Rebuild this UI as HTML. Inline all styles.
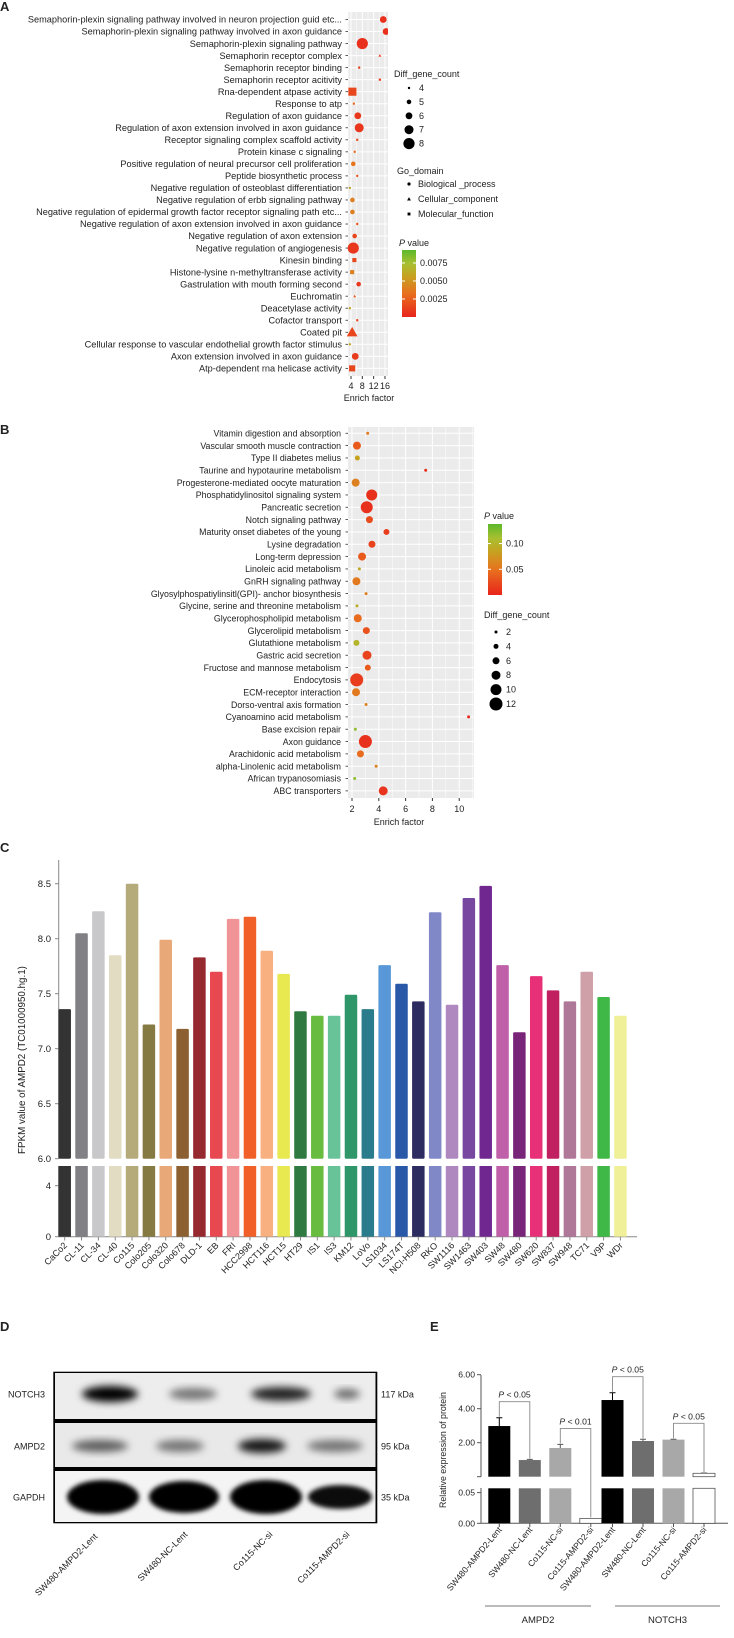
<!DOCTYPE html>
<html><head><meta charset="utf-8">
<style>
html,body{margin:0;padding:0;background:#fff;}
svg{display:block;font-family:"Liberation Sans",sans-serif;}
text{fill:#222;}
</style></head>
<body>
<svg id="fig" width="734" height="1638" viewBox="0 0 734 1638" xmlns="http://www.w3.org/2000/svg">
<defs>
<filter id="blur3" x="-50%" y="-50%" width="200%" height="200%"><feGaussianBlur stdDeviation="4"/></filter>
<filter id="blur2" x="-50%" y="-50%" width="200%" height="200%"><feGaussianBlur stdDeviation="2.5"/></filter>
<linearGradient id="gradA" x1="0" y1="1" x2="0" y2="0">
<stop offset="0" stop-color="#e8241c"/><stop offset="0.35" stop-color="#e8701e"/><stop offset="0.6" stop-color="#c8a020"/><stop offset="0.8" stop-color="#a8c030"/><stop offset="1" stop-color="#5cb82c"/>
</linearGradient>
</defs>
<g id="panelA"></g>
<g id="panelB"></g>
<g id="panelC"></g>
<g id="panelD"></g>
<g id="panelE"></g>
</svg>
<script>
// ---------- Panel A data ----------
const aTerms = ["Semaphorin-plexin signaling pathway involved in neuron projection guid etc...","Semaphorin-plexin signaling pathway involved in axon guidance","Semaphorin-plexin signaling pathway","Semaphorin receptor complex","Semaphorin receptor binding","Semaphorin receptor acitivity","Rna-dependent atpase activity","Response to atp","Regulation of axon guidance","Regulation of axon extension involved in axon guidance","Receptor signaling complex scaffold activity","Protein kinase c signaling","Positive regulation of neural precursor cell proliferation","Peptide biosynthetic process","Negative regulation of osteoblast differentiation","Negative regulation of erbb signaling pathway","Negative regulation of epidermal growth factor receptor signaling path etc...","Negative regulation of axon extension involved in axon guidance","Negative regulation of axon extension","Negative regulation of angiogenesis","Kinesin binding","Histone-lysine n-methyltransferase activity","Gastrulation with mouth forming second","Euchromatin","Deacetylase activity","Cofactor transport","Coated pit","Cellular response to vascular endothelial growth factor stimulus","Axon extension involved in axon guidance","Atp-dependent rna helicase activity"];
const aEnrich = [15.4,16.4,8.0,14.2,6.9,14.2,4.5,5.0,6.4,6.9,6.2,5.3,4.8,6.2,3.6,4.5,4.5,6.2,5.3,4.8,5.2,4.4,6.7,5.3,3.6,6.2,4.4,3.6,5.5,4.4];
const aCount = [6,6,8,4,4,4,7,4,6,7,4,4,5,4,4,5,5,4,5,8,5,5,5,4,4,4,7,4,6,6];
const aShape = ["c","c","c","t","c","s","s","c","c","c","s","c","c","c","c","c","c","c","c","c","s","s","c","t","s","c","t","c","c","s"];
const aP = [0.0005,0.0005,0.0005,0.0008,0.001,0.001,0.0015,0.003,0.0008,0.0008,0.0015,0.003,0.0035,0.002,0.006,0.004,0.004,0.002,0.0015,0.0008,0.0015,0.004,0.0008,0.002,0.006,0.0015,0.0015,0.006,0.001,0.0015];
const aXTicks = [4,8,12,16];
const aSizeLegend = [4,5,6,7,8];
const aPTicks = [0.0075,0.0050,0.0025];
// ---------- Panel B data ----------
const bTerms = ["Vitamin digestion and absorption","Vascular smooth muscle contraction","Type II diabetes melius","Taurine and hypotaurine metabolism","Progesterone-mediated oocyte maturation","Phosphatidylinositol signaling system","Pancreatic secretion","Notch signaling pathway","Maturity onset diabetes of the young","Lysine degradation","Long-term depression","Linoleic acid metabolism","GnRH signaling pathway","Glyosylphospatiylinsitl(GPI)- anchor biosynthesis","Glycine, serine and threonine metabolism","Glycerophospholipid metabolism","Glycerolipid metabolism","Glutathione metabolism","Gastric acid secretion","Fructose and mannose metabolism","Endocytosis","ECM-receptor interaction","Dorso-ventral axis formation","Cyanoamino acid metabolism","Base excision repair","Axon guidance","Arachidonic acid metabolism","alpha-Linolenic acid metabolism","African trypanosomiasis","ABC transporters"];
const bEnrich = [3.17,2.37,2.4,7.5,2.27,3.47,3.1,3.3,4.57,3.49,2.75,2.55,2.33,3.05,2.37,2.43,3.07,2.33,3.12,3.18,2.35,2.3,3.05,10.7,2.25,3.0,2.63,3.8,2.2,4.33];
const bCount = [2,7,4,2,7,10,11,6,5,6,7,2,7,2,2,7,6,5,8,5,12,7,2,2,2,12,6,2,2,8];
const bP = [0.055,0.035,0.085,0.005,0.06,0.008,0.008,0.025,0.015,0.02,0.035,0.09,0.055,0.06,0.095,0.045,0.03,0.1,0.02,0.035,0.015,0.055,0.06,0.003,0.12,0.008,0.045,0.06,0.12,0.01];
const bXTicks = [2,4,6,8,10];
const bSizeLegend = [2,4,6,8,10,12];
const bPTicks = [0.10,0.05];
// ---------- Panel C data ----------
const cLines = ["CaCo2","CL-11","CL-34","CL-40","Co115","Colo205","Colo320","Colo678","DLD-1","EB","FRI","HCC2998","HCT116","HCT15","HT29","IS1","IS3","KM12","LoVo","LS1034","LS174T","NCI-H508","RKO","SW1116","SW1463","SW403","SW48","SW480","SW620","SW837","SW948","TC71","V9P","WDr"];
const cValues = [7.36,8.05,8.25,7.85,8.5,7.22,7.99,7.18,7.83,7.70,8.18,8.20,7.89,7.68,7.34,7.30,7.30,7.49,7.36,7.76,7.59,7.43,8.24,7.40,8.37,8.48,7.76,7.15,7.66,7.53,7.43,7.70,7.47,7.30];
const cColors = ["#333333","#808085","#c8c8ca","#e2dcc2","#b5aa7a","#857a42","#e8a878","#8c6030","#962830","#e84850","#f09498","#f06028","#f8b080","#e8e850","#2e7a40","#68bc40","#68c498","#2e9668","#2a7c8c","#5898d8","#2a58a8","#2c2c60","#8088c8","#b088c0","#7848a0","#702890","#c060a8","#782478","#e83078","#c02060","#b07898","#d0a0a8","#40b848","#f0f098"];
const cUpperTicks = [6.0,6.5,7.0,7.5,8.0,8.5];
const cLowerTicks = [0,4];
// ---------- Panel E data ----------
const eLabels = ["SW480-AMPD2-Lent","SW480-NC-Lent","Co115-NC-si","Co115-AMPD2-si","SW480-AMPD2-Lent","SW480-NC-Lent","Co115-NC-si","Co115-AMPD2-si"];
const eValues = [2.98,0.98,1.69,0.008,4.51,2.1,2.18,0.2];
const eErrors = [0.49,0.04,0.21,0,0.43,0.1,0.02,0.02];
const eFills = ["#000000","#6e6e6e","#a8a8a8","#ffffff","#000000","#6e6e6e","#a8a8a8","#ffffff"];
const eUpperTicks = [2,4,6];
const eLowerTicks = [0,0.05];
const eGroups = ["AMPD2","NOTCH3"];
const eBrackets = [[0,1,"P < 0.05"],[2,3,"P < 0.01"],[4,5,"P < 0.05"],[6,7,"P < 0.05"]];
// ---------- Panel D data ----------
const dLanes = ["SW480-AMPD2-Lent","SW480-NC-Lent","Co115-NC-si","Co115-AMPD2-si"];
const dProteins = ["NOTCH3","AMPD2","GAPDH"];
const dKda = ["117 kDa","95 kDa","35 kDa"];
const dIntensity = [[1.0,0.5,0.85,0.55],[0.6,0.5,0.9,0.5],[1,1,1,0.95]];

const NS="http://www.w3.org/2000/svg";
function mk(parent,tag,attrs,txt){const e=document.createElementNS(NS,tag);for(const k in attrs)e.setAttribute(k,attrs[k]);if(txt!==undefined)e.textContent=txt;parent.appendChild(e);return e;}
function hex(c){return [parseInt(c.slice(1,3),16),parseInt(c.slice(3,5),16),parseInt(c.slice(5,7),16)];}
const stops=[[0,"#e8241c"],[0.35,"#e8701e"],[0.6,"#c8a020"],[0.8,"#a8c030"],[1,"#5cb82c"]];
function pcol(t){t=Math.max(0,Math.min(1,t));for(let i=1;i<stops.length;i++){if(t<=stops[i][0]){const a=hex(stops[i-1][1]),b=hex(stops[i][1]);const f=(t-stops[i-1][0])/(stops[i][0]-stops[i-1][0]);return "rgb("+a.map((v,j)=>Math.round(v+(b[j]-v)*f)).join(",")+")";}}return stops[4][1];}
function shape(g,s,cx,cy,r,fill){
  if(s==="c") return mk(g,"circle",{cx:cx,cy:cy,r:r,fill:fill});
  if(s==="s") return mk(g,"rect",{x:cx-r*0.9,y:cy-r*0.9,width:r*1.8,height:r*1.8,fill:fill});
  return mk(g,"polygon",{points:(cx)+","+(cy-r*1.2)+" "+(cx-r*1.2)+","+(cy+r*0.9)+" "+(cx+r*1.2)+","+(cy+r*0.9),fill:fill});
}

// ================= PANEL A =================
(function(){
const g=document.getElementById("panelA");
mk(g,"text",{x:0,y:11,"font-size":13,"font-weight":"bold"},"A");
const x0=348.3,x1=388,yT=12,yB=376;
const xs=v=>351+(v-4)*2.83;
const ys=i=>19.5+i*12.03;
mk(g,"rect",{x:x0,y:yT,width:x1-x0,height:yB-yT,fill:"#ebebeb"});
for(let v=4;v<=16;v+=2){mk(g,"line",{x1:xs(v),x2:xs(v),y1:yT,y2:yB,stroke:"#fff","stroke-width":v%4===0?1:0.5});}
aTerms.forEach((t,i)=>{
  mk(g,"line",{x1:x0,x2:x1,y1:ys(i),y2:ys(i),stroke:"#fff","stroke-width":1});
  mk(g,"line",{x1:345.5,x2:348,y1:ys(i),y2:ys(i),stroke:"#333","stroke-width":0.8});
  const tx=mk(g,"text",{x:342,y:ys(i)+3.2,"font-size":9.2,"text-anchor":"end"},t);
  
  
});
const pg=mk(g,"g",{});
aTerms.forEach((t,i)=>{
  const m=shape(pg,aShape[i],xs(aEnrich[i]),ys(i),1.2+(aCount[i]-4)*1.1,pcol(aP[i]/0.0093));
  
  
});
mk(g,"rect",{x:x1,y:0,width:4,height:yB,fill:"#fff"});
aXTicks.forEach(v=>{mk(g,"line",{x1:xs(v),x2:xs(v),y1:yB,y2:yB+3,stroke:"#333"});
  const tx=mk(g,"text",{x:xs(v),y:389,"font-size":9,"text-anchor":"middle"},String(v));
  });
mk(g,"text",{x:369,y:401,"font-size":9,"text-anchor":"middle"},"Enrich factor");
// legends
mk(g,"text",{x:394,y:77,"font-size":9},"Diff_gene_count");
aSizeLegend.forEach((c,i)=>{const y=88+i*13.9;mk(g,"circle",{cx:409,cy:y,r:1.2+(c-4)*1.1,fill:"#000"});mk(g,"text",{x:419,y:y+3,"font-size":9},String(c));});
mk(g,"text",{x:397,y:174,"font-size":9},"Go_domain");
[["c","Biological _process"],["t","Cellular_component"],["s","Molecular_function"]].forEach((d,i)=>{const y=184+i*15;shape(g,d[0],409,y,1.6,"#000");mk(g,"text",{x:418,y:y+3,"font-size":9},d[1]);});
const pt=mk(g,"text",{x:399,y:246,"font-size":9},"");

mk(pt,"tspan",{"font-style":"italic"},"P");mk(pt,"tspan",{}," value");
mk(g,"rect",{x:402,y:250,width:14,height:67,fill:"url(#gradA)"});
aPTicks.forEach(p=>{const y=317-(p/0.0093)*67;mk(g,"line",{x1:402,x2:405,y1:y,y2:y,stroke:"#fff"});mk(g,"line",{x1:413,x2:416,y1:y,y2:y,stroke:"#fff"});mk(g,"text",{x:420,y:y+3,"font-size":9},p.toFixed(4));});
})();

// ================= PANEL B =================
(function(){
const g=document.getElementById("panelB");
mk(g,"text",{x:0,y:434,"font-size":13,"font-weight":"bold"},"B");
const x0=348,x1=474,yT=427,yB=798;
const xs=v=>352+(v-2)*13.4;
const ys=i=>433.3+i*12.33;
mk(g,"rect",{x:x0,y:yT,width:x1-x0,height:yB-yT,fill:"#ebebeb"});
for(let v=2;v<=11;v+=1){mk(g,"line",{x1:xs(v),x2:xs(v),y1:yT,y2:yB,stroke:"#fff","stroke-width":v%2===0?1:0.5});}
bTerms.forEach((t,i)=>{
  mk(g,"line",{x1:x0,x2:x1,y1:ys(i),y2:ys(i),stroke:"#fff","stroke-width":1});
  mk(g,"line",{x1:345.5,x2:348,y1:ys(i),y2:ys(i),stroke:"#333","stroke-width":0.8});
  const tx=mk(g,"text",{x:341,y:ys(i)+3.2,"font-size":8.8,"text-anchor":"end"},t);
  
  
});
bTerms.forEach((t,i)=>{
  const m=mk(g,"circle",{cx:xs(bEnrich[i]),cy:ys(i),r:1.5+(bCount[i]-2)*0.5,fill:pcol(bP[i]/0.138)});
  
  
});
bXTicks.forEach(v=>{mk(g,"line",{x1:xs(v),x2:xs(v),y1:yB,y2:yB+3,stroke:"#333"});
  const tx=mk(g,"text",{x:xs(v),y:812,"font-size":9,"text-anchor":"middle"},String(v));
  });
mk(g,"text",{x:399,y:825,"font-size":9,"text-anchor":"middle"},"Enrich factor");
const pt=mk(g,"text",{x:484,y:519,"font-size":9},"");
mk(pt,"tspan",{"font-style":"italic"},"P");mk(pt,"tspan",{}," value");
mk(g,"rect",{x:488,y:524,width:14,height:71,fill:"url(#gradA)"});
bPTicks.forEach(p=>{const y=595-(p/0.138)*71;mk(g,"line",{x1:488,x2:491,y1:y,y2:y,stroke:"#fff"});mk(g,"line",{x1:499,x2:502,y1:y,y2:y,stroke:"#fff"});mk(g,"text",{x:506,y:y+3,"font-size":9},p.toFixed(2));});
mk(g,"text",{x:484,y:618,"font-size":9},"Diff_gene_count");
bSizeLegend.forEach((c,i)=>{const y=632+i*14.4;mk(g,"circle",{cx:496,cy:y,r:1.5+(c-2)*0.5,fill:"#000"});mk(g,"text",{x:506,y:y+3,"font-size":9},String(c));});
})();

// ================= PANEL C =================
(function(){
const g=document.getElementById("panelC");
mk(g,"text",{x:0,y:852,"font-size":13,"font-weight":"bold"},"C");
const yU=v=>1158.7-(v-6)*110, yL=v=>1236.7-v*12.75;
const cx=i=>64.7+i*16.84, bw=12.5;
mk(g,"line",{x1:58.7,x2:58.7,y1:860,y2:1158.7,stroke:"#888"});
mk(g,"line",{x1:58.7,x2:58.7,y1:1166,y2:1236.7,stroke:"#888"});
mk(g,"line",{x1:58.7,x2:637,y1:1236.7,y2:1236.7,stroke:"#888"});
cUpperTicks.forEach(v=>{mk(g,"line",{x1:55,x2:58.7,y1:yU(v),y2:yU(v),stroke:"#888"});mk(g,"text",{x:51,y:yU(v)+3.5,"font-size":9.5,"text-anchor":"end","fill":"#333"},v.toFixed(1));});
cLowerTicks.forEach(v=>{mk(g,"line",{x1:55,x2:58.7,y1:yL(v),y2:yL(v),stroke:"#888"});mk(g,"text",{x:51,y:yL(v)+3.5,"font-size":9.5,"text-anchor":"end"},String(v));});
const yt=mk(g,"text",{x:0,y:0,"font-size":9.8,"text-anchor":"middle",transform:"translate(25,1060) rotate(-90)"},"FPKM value of AMPD2 (TC01000950.hg.1)");

cValues.forEach((v,i)=>{
  const b=mk(g,"rect",{x:cx(i)-bw/2,y:yU(v),width:bw,height:1158.7-yU(v),fill:cColors[i],rx:1.2});
  
  
  const b2=mk(g,"rect",{x:cx(i)-bw/2,y:1166,width:bw,height:1236.7-1166,fill:cColors[i]});
  
  
  mk(g,"line",{x1:cx(i),x2:cx(i),y1:1236.7,y2:1240.5,stroke:"#888"});
  const t=mk(g,"text",{x:0,y:0,"font-size":9,"text-anchor":"end",transform:"translate("+(cx(i)+3)+",1246) rotate(-45)"},cLines[i]);
  
});
})();

// ================= PANEL D =================
(function(){
const g=document.getElementById("panelD");
mk(g,"text",{x:0,y:1331,"font-size":13,"font-weight":"bold"},"D");
const rows=[[1372,1420,1394,"#ededed"],[1422,1468,1446,"#e9e9e9"],[1470,1523,1497,"#f4f4f4"]];
const rx=[[28,24,30,13],[28,24,24,28],[36,35,36,32]], ry=[[8,6,7,5],[6,6,7,6],[17,16,17,12]];
const lx=[[110,193,281,347],[100,180,262,335],[103,184,266,340]];
mk(g,"rect",{x:53.3,y:1371.7,width:324,height:151.6,fill:"#000"});
rows.forEach((r,k)=>{
  const cl=mk(g,"clipPath",{id:"clip"+k});mk(cl,"rect",{x:55,y:r[0]+1,width:320.5,height:r[1]-r[0]-2});
  const sg=mk(g,"g",{"clip-path":"url(#clip"+k+")"});
  
  mk(sg,"rect",{x:55,y:r[0]+1,width:320.5,height:r[1]-r[0]-2,fill:r[3]});
  dIntensity[k].forEach((a,j)=>{
    const e=mk(sg,"ellipse",{cx:lx[k][j],cy:r[2],rx:rx[k][j],ry:ry[k][j],fill:"#000","fill-opacity":a,filter:k===2?"url(#blur2)":"url(#blur3)"});
    
  });
  mk(g,"text",{x:45,y:r[2]+3.5,"font-size":9,"text-anchor":"end"},dProteins[k]);
  mk(g,"text",{x:381,y:r[2]+3.5,"font-size":9},dKda[k]);
});
const ends=[[98,1537],[188,1535],[273,1535],[350,1535]];
dLanes.forEach((l,j)=>{mk(g,"text",{x:0,y:0,"font-size":9,"text-anchor":"end",transform:"translate("+ends[j][0]+","+ends[j][1]+") rotate(-45)"},l);});
})();

// ================= PANEL E =================
(function(){
const g=document.getElementById("panelE");
mk(g,"text",{x:430,y:1331,"font-size":13,"font-weight":"bold"},"E");
const yU=v=>1476.7-v*17, yL=v=>1523.3-v/0.05*30.7;
const bx=i=>488.3+i*30.5+(i>=4?-8.8:0), bw=22;
const cxs=i=>bx(i)+bw/2;
mk(g,"line",{x1:481,x2:481,y1:1375,y2:1476.7,stroke:"#555"});
mk(g,"line",{x1:481,x2:481,y1:1488,y2:1523.3,stroke:"#555"});
mk(g,"line",{x1:481,x2:728,y1:1523.3,y2:1523.3,stroke:"#555"});
eUpperTicks.forEach(v=>{mk(g,"line",{x1:477,x2:481,y1:yU(v),y2:yU(v),stroke:"#555"});mk(g,"text",{x:475,y:yU(v)+3,"font-size":8.6,"text-anchor":"end"},v.toFixed(2));});
mk(g,"line",{x1:477,x2:481,y1:1476.7,y2:1476.7,stroke:"#555"});
eLowerTicks.forEach(v=>{mk(g,"line",{x1:477,x2:481,y1:yL(v),y2:yL(v),stroke:"#555"});mk(g,"text",{x:475,y:yL(v)+3,"font-size":8.6,"text-anchor":"end"},v.toFixed(2));});
mk(g,"text",{x:0,y:0,"font-size":8.8,"text-anchor":"middle",transform:"translate(446,1450) rotate(-90)"},"Relative expression of protein");
eValues.forEach((v,i)=>{
  const st=eFills[i]==="#ffffff"?"#555":"none";
  if(v>0.06){
    const b=mk(g,"rect",{x:bx(i),y:yU(v),width:bw,height:1476.7-yU(v),fill:eFills[i],stroke:st,"stroke-width":0.8});
    
    
    const b2=mk(g,"rect",{x:bx(i),y:1488.3,width:bw,height:1523.3-1488.3,fill:eFills[i],stroke:st,"stroke-width":0.8});
    
    
    if(eErrors[i]>0){const e=mk(g,"path",{d:"M"+cxs(i)+" "+yU(v)+"V"+yU(v+eErrors[i])+"M"+(cxs(i)-3)+" "+yU(v+eErrors[i])+"H"+(cxs(i)+3),stroke:eFills[i]==="#000000"?"#000":"#555",fill:"none"});}
  } else {
    const b=mk(g,"rect",{x:bx(i),y:yL(v),width:bw,height:1523.3-yL(v),fill:eFills[i],stroke:"#555","stroke-width":0.8});
    
    
  }
  mk(g,"line",{x1:cxs(i),x2:cxs(i),y1:1523.3,y2:1527,stroke:"#555"});
  mk(g,"text",{x:0,y:0,"font-size":8.6,"text-anchor":"end",transform:"translate("+(cxs(i)+3)+",1530) rotate(-50)"},eLabels[i]);
});
function topOf(i){const v=eValues[i]+eErrors[i];return v>0.06?yU(v)-1:yL(v)-1;}
eBrackets.forEach(b=>{
  const a=b[0],c=b[1];
  const yb=Math.min(topOf(a),topOf(c))-15;
  const p=mk(g,"path",{d:"M"+cxs(a)+" "+topOf(a)+"V"+yb+"H"+cxs(c)+"V"+topOf(c),stroke:"#888",fill:"none","stroke-width":0.9});
  
  const t=mk(g,"text",{x:(cxs(a)+cxs(c))/2,y:yb-4,"font-size":8.6,"text-anchor":"middle"},"");
  
  mk(t,"tspan",{"font-style":"italic"},"P");mk(t,"tspan",{}," "+b[2].slice(2));
});
eGroups.forEach((n,k)=>{
  const xa=k===0?485:615, xb=k===0?591:720;
  mk(g,"line",{x1:xa,x2:xb,y1:1606,y2:1606,stroke:"#777"});
  mk(g,"text",{x:(xa+xb)/2,y:1623,"font-size":9.5,"text-anchor":"middle"},n);
});
})();
</script>
</body></html>
